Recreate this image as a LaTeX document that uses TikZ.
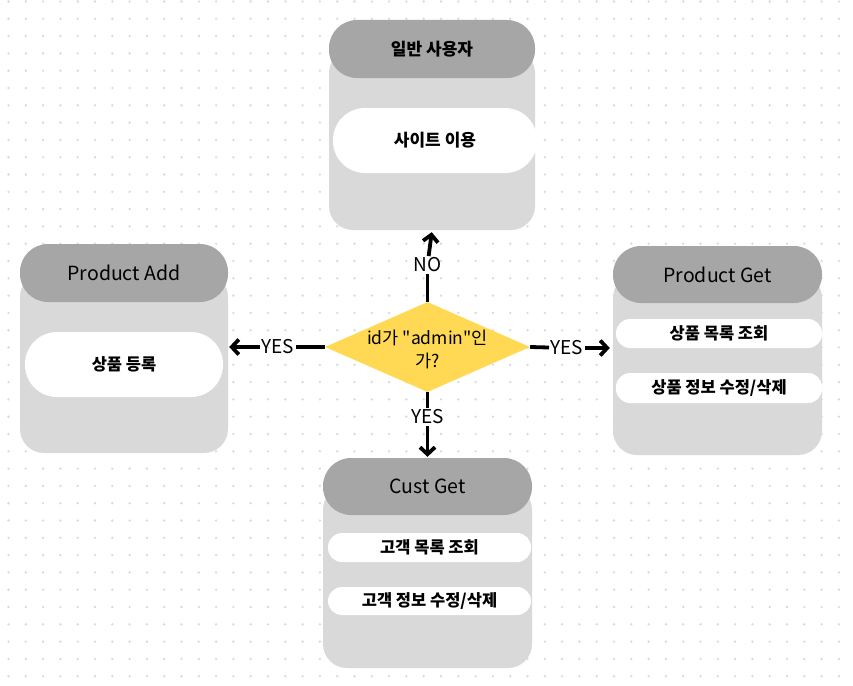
\documentclass[tikz,border=0pt]{standalone}
\usepackage{fontspec}
\setmainfont{Noto Sans CJK KR}[Ligatures=TeXOff]
\usetikzlibrary{shapes.geometric,arrows.meta}
\definecolor{headgray}{RGB}{166,166,166}
\definecolor{bodygray}{RGB}{217,217,217}
\definecolor{dotgray}{RGB}{214,218,226}
\definecolor{askyellow}{RGB}{255,217,84}

\begin{document}
\begin{tikzpicture}[x=1pt,y=-1pt,>={Straight Barb[length=7pt,width=15pt]},
  cardbody/.style={fill=bodygray,rounded corners=24pt,inner sep=0pt},
  cardhead/.style={fill=headgray,rounded corners=28pt,inner sep=0pt,
    font=\fontsize{19.5}{22}\selectfont},
  cardpill/.style={fill=white,inner sep=0pt,font=\bfseries\fontsize{16.5}{19}\selectfont},
  smallpill/.style={cardpill,rounded corners=14pt,minimum width=#1,
    font=\bfseries\fontsize{16.5}{19}\selectfont},
  flow/.style={line width=3.8pt},
  lbl/.style={inner sep=1.5pt,font=\fontsize{19}{22}\selectfont}]
%%background
\fill[white] (0,0) rectangle (853,685);
\useasboundingbox (0,0) rectangle (853,685);
\foreach \i in {0,...,49}
  \foreach \j in {0,...,39}
    \fill[dotgray] (8.5+17.3*\i, 1.5+17.3*\j) circle (1.3);
%%user
\node[cardbody,minimum width=206pt,minimum height=181pt] (userbody) at (432,139.5) {};
\node[cardhead,minimum width=206pt,minimum height=58pt] (userhead) at (432,49)
  {\bfseries\fontsize{17}{20}\selectfont 일반 사용자};
\node[cardpill,rounded corners=32pt,minimum width=204pt,minimum height=65pt,
  font=\bfseries\fontsize{17}{20}\selectfont] (userpill) at (435,140.5) {사이트 이용};
%%product add
\node[cardbody,minimum width=208pt,minimum height=180pt] (addbody) at (124,363) {};
\node[cardhead,minimum width=208pt,minimum height=58pt] (addhead) at (124,273)
  {Product Add};
\node[cardpill,rounded corners=32pt,minimum width=198pt,minimum height=65pt]
  (addpill) at (124,364.5) {상품 등록};
%%product get
\node[cardbody,minimum width=209pt,minimum height=181pt] (getbody) at (717.5,364.5) {};
\node[cardhead,minimum width=209pt,minimum height=57pt] (gethead) at (717.5,274.5)
  {Product Get};
\node[smallpill=206pt,minimum height=29pt] (getlist) at (719,333.5) {상품 목록 조회};
\node[smallpill=206pt,minimum height=30pt] (getedit) at (719,388) {상품 정보 수정/삭제};
%%cust get
\node[cardbody,minimum width=209pt,minimum height=182pt] (custbody) at (427.5,577) {};
\node[cardhead,minimum width=209pt,minimum height=57pt] (custhead) at (427.5,486.5)
  {Cust Get};
\node[smallpill=203pt,minimum height=29pt] (custlist) at (429.5,547.5) {고객 목록 조회};
\node[smallpill=203pt,minimum height=28pt] (custedit) at (429.5,601) {고객 정보 수정/삭제};
%%decision
\node[diamond,fill=askyellow,inner sep=0pt,minimum width=205pt,minimum height=90pt]
  (chk) at (427.5,347) {};
\node[align=center,inner sep=0pt,font=\fontsize{17.5}{23}\selectfont] (chktxt) at (427.5,349)
  {id가 "admin"인\\가?};
%%branches
\node[lbl] (no) at (427.5,265) {NO};
\draw[flow] (chk.north) -- (no);
\draw[flow,->,shorten >=2pt] (no) -- (userbody.south);
\node[lbl] (yesl) at (278,347) {YES};
\draw[flow] (chk.west) -- (yesl);
\draw[flow,->,shorten >=1pt] (yesl) -- (yesl -| addbody.east);
\node[lbl] (yesr) at (567,348) {YES};
\draw[flow] (chk.east) -- (yesr);
\draw[flow,->,shorten >=3pt] (yesr) -- (yesr -| getbody.west);
\node[lbl] (yesb) at (427.5,417) {YES};
\draw[flow] (chk.south) -- (yesb);
\draw[flow,->,shorten >=1pt] (yesb) -- (custhead.north);
\end{tikzpicture}
\end{document}
